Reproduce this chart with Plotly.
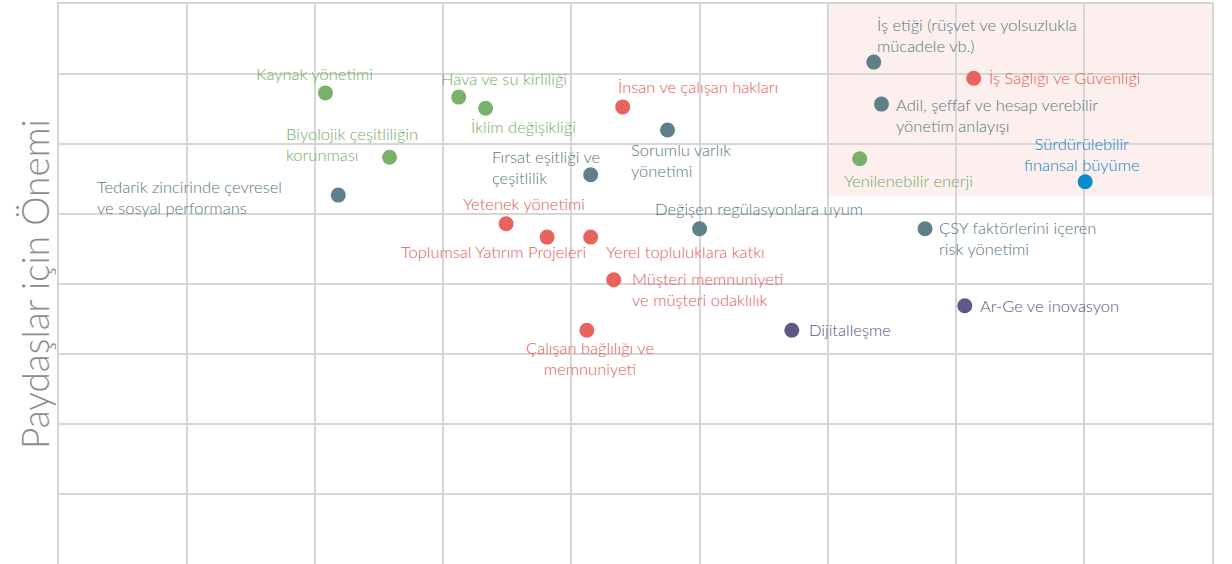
import plotly.graph_objects as go

# ---- data ----
labels = [
    "Kaynak yönetimi",
    "Hava ve su kirliliği",
    "İklim değişikliği",
    "Biyolojik çeşitliliğin<br>korunması",
    "Tedarik zincirinde çevresel<br>ve sosyal performans",
    "İnsan ve çalışan hakları",
    "Sorumlu varlık<br>yönetimi",
    "Fırsat eşitliği ve<br>çeşitlilik",
    "Yetenek yönetimi",
    "Toplumsal Yatırım Projeleri",
    "Yerel topluluklara katkı",
    "Değişen regülasyonlara uyum",
    "Müşteri memnuniyeti<br>ve müşteri odaklılık",
    "Çalışan bağlılığı ve<br>memnuniyeti",
    "Dijitalleşme",
    "Ar-Ge ve inovasyon",
    "ÇSY faktörlerini içeren<br>risk yönetimi",
    "İş etiği (rüşvet ve yolsuzlukla<br>mücadele vb.)",
    "İş Sağlığı ve Güvenliği",
    "Adil, şeffaf ve hesap verebilir<br>yönetim anlayışı",
    "Yenilenebilir enerji",
    "Sürdürülebilir<br>finansal büyüme",
]
x_values = [2.08, 3.12, 3.33, 2.58, 2.18, 4.40, 4.75, 4.15, 3.49, 3.81, 4.15,
            5.00, 4.33, 4.12, 5.72, 7.07, 6.76, 6.36, 7.14, 6.42, 6.25, 8.01]
y_values = [6.73, 6.67, 6.51, 5.81, 5.27, 6.53, 6.20, 5.56, 4.86, 4.67, 4.67,
            4.79, 4.06, 3.34, 3.34, 3.69, 4.79, 7.17, 6.94, 6.57, 5.79, 5.46]
groups = ["env", "env", "env", "env", "gov", "soc", "gov", "gov", "soc", "soc", "soc",
          "gov", "soc", "soc", "inn", "inn", "gov", "gov", "soc", "gov", "env", "fin"]

y_axis_title = "Paydaşlar için Önemi"

# ---- styles ----
dot_colors = {"env": "#79b06a", "gov": "#5f7f8b", "soc": "#e8625e",
              "inn": "#5e5888", "fin": "#0a8bd0"}
text_colors = {"env": "#72ab63", "gov": "#58767f", "soc": "#e45a56",
               "inn": "#58537f", "fin": "#0a86c8"}
# label placement: (xanchor, align, xshift, yshift)
placement = [
    ("center", "center", -11, 19),
    ("center", "center", 45, 18),
    ("center", "center", 38, -19),
    ("left", "left", -106, 13),
    ("left", "left", -243, -2),
    ("left", "left", -7, 20),
    ("left", "left", -39, -30),
    ("left", "left", -101, 7),
    ("center", "center", 18, 20),
    ("right", "left", 41, -15),
    ("left", "left", 13, -15),
    ("center", "center", 59, 20),
    ("left", "left", 16, -10),
    ("center", "center", 3, -28),
    ("left", "left", 15, 0),
    ("left", "left", 13, 0),
    ("left", "left", 12, -10),
    ("left", "left", 1, 27),
    ("left", "left", 13, 0),
    ("left", "left", 13, -11),
    ("center", "center", 49, -22),
    ("center", "center", -3, 27),
]

fig = go.Figure()
fig.add_trace(go.Scatter(
    x=x_values, y=y_values, mode="markers",
    marker=dict(size=15, color=[dot_colors[g] for g in groups]),
    hoverinfo="skip", showlegend=False,
))

for lab, xv, yv, g, (xa, al, xs, ys) in zip(labels, x_values, y_values, groups, placement):
    fig.add_annotation(
        x=xv, y=yv, xref="x", yref="y", text=lab, showarrow=False,
        xanchor=xa, yanchor="middle", align=al, xshift=xs, yshift=ys,
        font=dict(family="Lato", size=16.5, weight=300, color=text_colors[g]),
    )

fig.add_shape(type="rect", x0=6, x1=9, y0=5.26, y1=8, xref="x", yref="y",
              fillcolor="#fcefee", line=dict(width=0), layer="below")

fig.add_annotation(
    x=0, y=0.5, xref="paper", yref="paper", xshift=-25, xanchor="center", yanchor="middle",
    text=y_axis_title, textangle=-90, showarrow=False,
    font=dict(family="Lato", size=37, weight=300, color="#8c8c8c"),
)

axis_style = dict(showgrid=True, gridcolor="#d6d6d6", gridwidth=1.5, dtick=1,
                  zeroline=False, showticklabels=False, ticks="",
                  showline=True, linecolor="#d6d6d6", linewidth=1.5, mirror=True,
                  fixedrange=True)
fig.update_xaxes(range=[0, 9], tick0=0, **axis_style)
fig.update_yaxes(range=[0, 8], tick0=0, **axis_style)

fig.update_layout(
    width=1232, height=564,
    margin=dict(l=59, r=20, t=4, b=0),
    plot_bgcolor="white", paper_bgcolor="white",
)

fig.write_html("out.html", config={"displayModeBar": False},
               post_script="document.body.style.margin='0';")
